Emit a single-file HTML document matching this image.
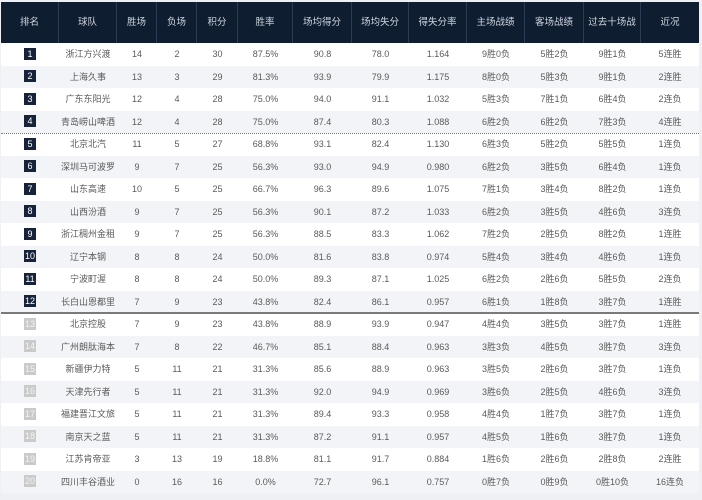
<!DOCTYPE html>
<html><head><meta charset="utf-8">
<style>
html,body{margin:0;padding:0;}
body{width:702px;height:500px;background:#eef0f4;position:relative;overflow:hidden;
font-family:"Liberation Sans","Noto Sans CJK SC",sans-serif;}
.hdr{position:absolute;left:1px;top:2px;width:698px;height:41px;background:#0f1d31;}
.hc{position:absolute;top:0;height:41px;line-height:41px;text-align:center;color:#cfd6df;font-size:9.5px;border-right:1px solid #2c3c54;box-sizing:border-box;}
.row{position:absolute;left:1px;width:698px;height:22.5px;}
.row.w{background:#ffffff;}
.row.g{background:#f3f4f7;}
.c{position:absolute;top:0;height:22.5px;line-height:22.5px;text-align:center;color:#5a5a5a;font-size:9px;}
.b{display:inline-block;width:12px;height:12px;line-height:12px;background:#16233a;color:#fff;font-size:9px;vertical-align:middle;margin-top:-2px;}
.b.l{background:#cacaca;color:#f4f4f4;}
.dash{position:absolute;left:1px;width:698px;top:133px;height:0;border-top:1px dotted #777;z-index:2;}
.solid{position:absolute;left:1px;width:698px;top:312px;height:2px;background:#7a7a7a;z-index:2;}
</style></head><body>
<div class="hdr">
<div class="hc" style="left:0;width:58px">排名</div>
<div class="hc" style="left:58px;width:58px">球队</div>
<div class="hc" style="left:116px;width:40px">胜场</div>
<div class="hc" style="left:156px;width:40px">负场</div>
<div class="hc" style="left:196px;width:41px">积分</div>
<div class="hc" style="left:237px;width:55px">胜率</div>
<div class="hc" style="left:292px;width:59px">场均得分</div>
<div class="hc" style="left:351px;width:57px">场均失分</div>
<div class="hc" style="left:408px;width:58px">得失分率</div>
<div class="hc" style="left:466px;width:58px">主场战绩</div>
<div class="hc" style="left:524px;width:59px">客场战绩</div>
<div class="hc" style="left:583px;width:57px">过去十场战绩</div>
<div class="hc" style="left:640px;width:58px;border-right:none">近况</div>
</div>
<div id="r">
<div class="row w" style="top:43px"><div class="c" style="left:0;width:58px"><span class="b">1</span></div><div class="c" style="left:58px;width:58px">浙江方兴渡</div><div class="c" style="left:116px;width:40px">14</div><div class="c" style="left:156px;width:40px">2</div><div class="c" style="left:196px;width:41px">30</div><div class="c" style="left:237px;width:55px">87.5%</div><div class="c" style="left:292px;width:59px">90.8</div><div class="c" style="left:351px;width:57px">78.0</div><div class="c" style="left:408px;width:58px">1.164</div><div class="c" style="left:466px;width:58px">9胜0负</div><div class="c" style="left:524px;width:59px">5胜2负</div><div class="c" style="left:583px;width:57px">9胜1负</div><div class="c" style="left:640px;width:58px">5连胜</div></div>
<div class="row g" style="top:65.5px"><div class="c" style="left:0;width:58px"><span class="b">2</span></div><div class="c" style="left:58px;width:58px">上海久事</div><div class="c" style="left:116px;width:40px">13</div><div class="c" style="left:156px;width:40px">3</div><div class="c" style="left:196px;width:41px">29</div><div class="c" style="left:237px;width:55px">81.3%</div><div class="c" style="left:292px;width:59px">93.9</div><div class="c" style="left:351px;width:57px">79.9</div><div class="c" style="left:408px;width:58px">1.175</div><div class="c" style="left:466px;width:58px">8胜0负</div><div class="c" style="left:524px;width:59px">5胜3负</div><div class="c" style="left:583px;width:57px">9胜1负</div><div class="c" style="left:640px;width:58px">2连胜</div></div>
<div class="row w" style="top:88px"><div class="c" style="left:0;width:58px"><span class="b">3</span></div><div class="c" style="left:58px;width:58px">广东东阳光</div><div class="c" style="left:116px;width:40px">12</div><div class="c" style="left:156px;width:40px">4</div><div class="c" style="left:196px;width:41px">28</div><div class="c" style="left:237px;width:55px">75.0%</div><div class="c" style="left:292px;width:59px">94.0</div><div class="c" style="left:351px;width:57px">91.1</div><div class="c" style="left:408px;width:58px">1.032</div><div class="c" style="left:466px;width:58px">5胜3负</div><div class="c" style="left:524px;width:59px">7胜1负</div><div class="c" style="left:583px;width:57px">6胜4负</div><div class="c" style="left:640px;width:58px">2连负</div></div>
<div class="row g" style="top:110.5px"><div class="c" style="left:0;width:58px"><span class="b">4</span></div><div class="c" style="left:58px;width:58px">青岛崂山啤酒</div><div class="c" style="left:116px;width:40px">12</div><div class="c" style="left:156px;width:40px">4</div><div class="c" style="left:196px;width:41px">28</div><div class="c" style="left:237px;width:55px">75.0%</div><div class="c" style="left:292px;width:59px">87.4</div><div class="c" style="left:351px;width:57px">80.3</div><div class="c" style="left:408px;width:58px">1.088</div><div class="c" style="left:466px;width:58px">6胜2负</div><div class="c" style="left:524px;width:59px">6胜2负</div><div class="c" style="left:583px;width:57px">7胜3负</div><div class="c" style="left:640px;width:58px">4连胜</div></div>
<div class="row w" style="top:133px"><div class="c" style="left:0;width:58px"><span class="b">5</span></div><div class="c" style="left:58px;width:58px">北京北汽</div><div class="c" style="left:116px;width:40px">11</div><div class="c" style="left:156px;width:40px">5</div><div class="c" style="left:196px;width:41px">27</div><div class="c" style="left:237px;width:55px">68.8%</div><div class="c" style="left:292px;width:59px">93.1</div><div class="c" style="left:351px;width:57px">82.4</div><div class="c" style="left:408px;width:58px">1.130</div><div class="c" style="left:466px;width:58px">6胜3负</div><div class="c" style="left:524px;width:59px">5胜2负</div><div class="c" style="left:583px;width:57px">5胜5负</div><div class="c" style="left:640px;width:58px">1连负</div></div>
<div class="row g" style="top:155.5px"><div class="c" style="left:0;width:58px"><span class="b">6</span></div><div class="c" style="left:58px;width:58px">深圳马可波罗</div><div class="c" style="left:116px;width:40px">9</div><div class="c" style="left:156px;width:40px">7</div><div class="c" style="left:196px;width:41px">25</div><div class="c" style="left:237px;width:55px">56.3%</div><div class="c" style="left:292px;width:59px">93.0</div><div class="c" style="left:351px;width:57px">94.9</div><div class="c" style="left:408px;width:58px">0.980</div><div class="c" style="left:466px;width:58px">6胜2负</div><div class="c" style="left:524px;width:59px">3胜5负</div><div class="c" style="left:583px;width:57px">6胜4负</div><div class="c" style="left:640px;width:58px">1连负</div></div>
<div class="row w" style="top:178px"><div class="c" style="left:0;width:58px"><span class="b">7</span></div><div class="c" style="left:58px;width:58px">山东高速</div><div class="c" style="left:116px;width:40px">10</div><div class="c" style="left:156px;width:40px">5</div><div class="c" style="left:196px;width:41px">25</div><div class="c" style="left:237px;width:55px">66.7%</div><div class="c" style="left:292px;width:59px">96.3</div><div class="c" style="left:351px;width:57px">89.6</div><div class="c" style="left:408px;width:58px">1.075</div><div class="c" style="left:466px;width:58px">7胜1负</div><div class="c" style="left:524px;width:59px">3胜4负</div><div class="c" style="left:583px;width:57px">8胜2负</div><div class="c" style="left:640px;width:58px">1连负</div></div>
<div class="row g" style="top:200.5px"><div class="c" style="left:0;width:58px"><span class="b">8</span></div><div class="c" style="left:58px;width:58px">山西汾酒</div><div class="c" style="left:116px;width:40px">9</div><div class="c" style="left:156px;width:40px">7</div><div class="c" style="left:196px;width:41px">25</div><div class="c" style="left:237px;width:55px">56.3%</div><div class="c" style="left:292px;width:59px">90.1</div><div class="c" style="left:351px;width:57px">87.2</div><div class="c" style="left:408px;width:58px">1.033</div><div class="c" style="left:466px;width:58px">6胜2负</div><div class="c" style="left:524px;width:59px">3胜5负</div><div class="c" style="left:583px;width:57px">4胜6负</div><div class="c" style="left:640px;width:58px">3连负</div></div>
<div class="row w" style="top:223px"><div class="c" style="left:0;width:58px"><span class="b">9</span></div><div class="c" style="left:58px;width:58px">浙江稠州金租</div><div class="c" style="left:116px;width:40px">9</div><div class="c" style="left:156px;width:40px">7</div><div class="c" style="left:196px;width:41px">25</div><div class="c" style="left:237px;width:55px">56.3%</div><div class="c" style="left:292px;width:59px">88.5</div><div class="c" style="left:351px;width:57px">83.3</div><div class="c" style="left:408px;width:58px">1.062</div><div class="c" style="left:466px;width:58px">7胜2负</div><div class="c" style="left:524px;width:59px">2胜5负</div><div class="c" style="left:583px;width:57px">8胜2负</div><div class="c" style="left:640px;width:58px">1连胜</div></div>
<div class="row g" style="top:245.5px"><div class="c" style="left:0;width:58px"><span class="b">10</span></div><div class="c" style="left:58px;width:58px">辽宁本钢</div><div class="c" style="left:116px;width:40px">8</div><div class="c" style="left:156px;width:40px">8</div><div class="c" style="left:196px;width:41px">24</div><div class="c" style="left:237px;width:55px">50.0%</div><div class="c" style="left:292px;width:59px">81.6</div><div class="c" style="left:351px;width:57px">83.8</div><div class="c" style="left:408px;width:58px">0.974</div><div class="c" style="left:466px;width:58px">5胜4负</div><div class="c" style="left:524px;width:59px">3胜4负</div><div class="c" style="left:583px;width:57px">4胜6负</div><div class="c" style="left:640px;width:58px">1连负</div></div>
<div class="row w" style="top:268px"><div class="c" style="left:0;width:58px"><span class="b">11</span></div><div class="c" style="left:58px;width:58px">宁波町渥</div><div class="c" style="left:116px;width:40px">8</div><div class="c" style="left:156px;width:40px">8</div><div class="c" style="left:196px;width:41px">24</div><div class="c" style="left:237px;width:55px">50.0%</div><div class="c" style="left:292px;width:59px">89.3</div><div class="c" style="left:351px;width:57px">87.1</div><div class="c" style="left:408px;width:58px">1.025</div><div class="c" style="left:466px;width:58px">6胜2负</div><div class="c" style="left:524px;width:59px">2胜6负</div><div class="c" style="left:583px;width:57px">5胜5负</div><div class="c" style="left:640px;width:58px">2连负</div></div>
<div class="row g" style="top:290.5px"><div class="c" style="left:0;width:58px"><span class="b">12</span></div><div class="c" style="left:58px;width:58px">长白山恩都里</div><div class="c" style="left:116px;width:40px">7</div><div class="c" style="left:156px;width:40px">9</div><div class="c" style="left:196px;width:41px">23</div><div class="c" style="left:237px;width:55px">43.8%</div><div class="c" style="left:292px;width:59px">82.4</div><div class="c" style="left:351px;width:57px">86.1</div><div class="c" style="left:408px;width:58px">0.957</div><div class="c" style="left:466px;width:58px">6胜1负</div><div class="c" style="left:524px;width:59px">1胜8负</div><div class="c" style="left:583px;width:57px">3胜7负</div><div class="c" style="left:640px;width:58px">1连胜</div></div>
<div class="row w" style="top:313px"><div class="c" style="left:0;width:58px"><span class="b l">13</span></div><div class="c" style="left:58px;width:58px">北京控股</div><div class="c" style="left:116px;width:40px">7</div><div class="c" style="left:156px;width:40px">9</div><div class="c" style="left:196px;width:41px">23</div><div class="c" style="left:237px;width:55px">43.8%</div><div class="c" style="left:292px;width:59px">88.9</div><div class="c" style="left:351px;width:57px">93.9</div><div class="c" style="left:408px;width:58px">0.947</div><div class="c" style="left:466px;width:58px">4胜4负</div><div class="c" style="left:524px;width:59px">3胜5负</div><div class="c" style="left:583px;width:57px">3胜7负</div><div class="c" style="left:640px;width:58px">1连胜</div></div>
<div class="row g" style="top:335.5px"><div class="c" style="left:0;width:58px"><span class="b l">14</span></div><div class="c" style="left:58px;width:58px">广州朗肽海本</div><div class="c" style="left:116px;width:40px">7</div><div class="c" style="left:156px;width:40px">8</div><div class="c" style="left:196px;width:41px">22</div><div class="c" style="left:237px;width:55px">46.7%</div><div class="c" style="left:292px;width:59px">85.1</div><div class="c" style="left:351px;width:57px">88.4</div><div class="c" style="left:408px;width:58px">0.963</div><div class="c" style="left:466px;width:58px">3胜3负</div><div class="c" style="left:524px;width:59px">4胜5负</div><div class="c" style="left:583px;width:57px">3胜7负</div><div class="c" style="left:640px;width:58px">3连负</div></div>
<div class="row w" style="top:358px"><div class="c" style="left:0;width:58px"><span class="b l">15</span></div><div class="c" style="left:58px;width:58px">新疆伊力特</div><div class="c" style="left:116px;width:40px">5</div><div class="c" style="left:156px;width:40px">11</div><div class="c" style="left:196px;width:41px">21</div><div class="c" style="left:237px;width:55px">31.3%</div><div class="c" style="left:292px;width:59px">85.6</div><div class="c" style="left:351px;width:57px">88.9</div><div class="c" style="left:408px;width:58px">0.963</div><div class="c" style="left:466px;width:58px">3胜5负</div><div class="c" style="left:524px;width:59px">2胜6负</div><div class="c" style="left:583px;width:57px">3胜7负</div><div class="c" style="left:640px;width:58px">1连负</div></div>
<div class="row g" style="top:380.5px"><div class="c" style="left:0;width:58px"><span class="b l">16</span></div><div class="c" style="left:58px;width:58px">天津先行者</div><div class="c" style="left:116px;width:40px">5</div><div class="c" style="left:156px;width:40px">11</div><div class="c" style="left:196px;width:41px">21</div><div class="c" style="left:237px;width:55px">31.3%</div><div class="c" style="left:292px;width:59px">92.0</div><div class="c" style="left:351px;width:57px">94.9</div><div class="c" style="left:408px;width:58px">0.969</div><div class="c" style="left:466px;width:58px">3胜6负</div><div class="c" style="left:524px;width:59px">2胜5负</div><div class="c" style="left:583px;width:57px">4胜6负</div><div class="c" style="left:640px;width:58px">3连负</div></div>
<div class="row w" style="top:403px"><div class="c" style="left:0;width:58px"><span class="b l">17</span></div><div class="c" style="left:58px;width:58px">福建晋江文旅</div><div class="c" style="left:116px;width:40px">5</div><div class="c" style="left:156px;width:40px">11</div><div class="c" style="left:196px;width:41px">21</div><div class="c" style="left:237px;width:55px">31.3%</div><div class="c" style="left:292px;width:59px">89.4</div><div class="c" style="left:351px;width:57px">93.3</div><div class="c" style="left:408px;width:58px">0.958</div><div class="c" style="left:466px;width:58px">4胜4负</div><div class="c" style="left:524px;width:59px">1胜7负</div><div class="c" style="left:583px;width:57px">3胜7负</div><div class="c" style="left:640px;width:58px">1连负</div></div>
<div class="row g" style="top:425.5px"><div class="c" style="left:0;width:58px"><span class="b l">18</span></div><div class="c" style="left:58px;width:58px">南京天之蓝</div><div class="c" style="left:116px;width:40px">5</div><div class="c" style="left:156px;width:40px">11</div><div class="c" style="left:196px;width:41px">21</div><div class="c" style="left:237px;width:55px">31.3%</div><div class="c" style="left:292px;width:59px">87.2</div><div class="c" style="left:351px;width:57px">91.1</div><div class="c" style="left:408px;width:58px">0.957</div><div class="c" style="left:466px;width:58px">4胜5负</div><div class="c" style="left:524px;width:59px">1胜6负</div><div class="c" style="left:583px;width:57px">3胜7负</div><div class="c" style="left:640px;width:58px">1连负</div></div>
<div class="row w" style="top:448px"><div class="c" style="left:0;width:58px"><span class="b l">19</span></div><div class="c" style="left:58px;width:58px">江苏肯帝亚</div><div class="c" style="left:116px;width:40px">3</div><div class="c" style="left:156px;width:40px">13</div><div class="c" style="left:196px;width:41px">19</div><div class="c" style="left:237px;width:55px">18.8%</div><div class="c" style="left:292px;width:59px">81.1</div><div class="c" style="left:351px;width:57px">91.7</div><div class="c" style="left:408px;width:58px">0.884</div><div class="c" style="left:466px;width:58px">1胜6负</div><div class="c" style="left:524px;width:59px">2胜6负</div><div class="c" style="left:583px;width:57px">2胜8负</div><div class="c" style="left:640px;width:58px">2连胜</div></div>
<div class="row g" style="top:470.5px"><div class="c" style="left:0;width:58px"><span class="b l">20</span></div><div class="c" style="left:58px;width:58px">四川丰谷酒业</div><div class="c" style="left:116px;width:40px">0</div><div class="c" style="left:156px;width:40px">16</div><div class="c" style="left:196px;width:41px">16</div><div class="c" style="left:237px;width:55px">0.0%</div><div class="c" style="left:292px;width:59px">72.7</div><div class="c" style="left:351px;width:57px">96.1</div><div class="c" style="left:408px;width:58px">0.757</div><div class="c" style="left:466px;width:58px">0胜7负</div><div class="c" style="left:524px;width:59px">0胜9负</div><div class="c" style="left:583px;width:57px">0胜10负</div><div class="c" style="left:640px;width:58px">16连负</div></div>
</div>
<div class="dash"></div>
<div class="solid"></div>
</body></html>
